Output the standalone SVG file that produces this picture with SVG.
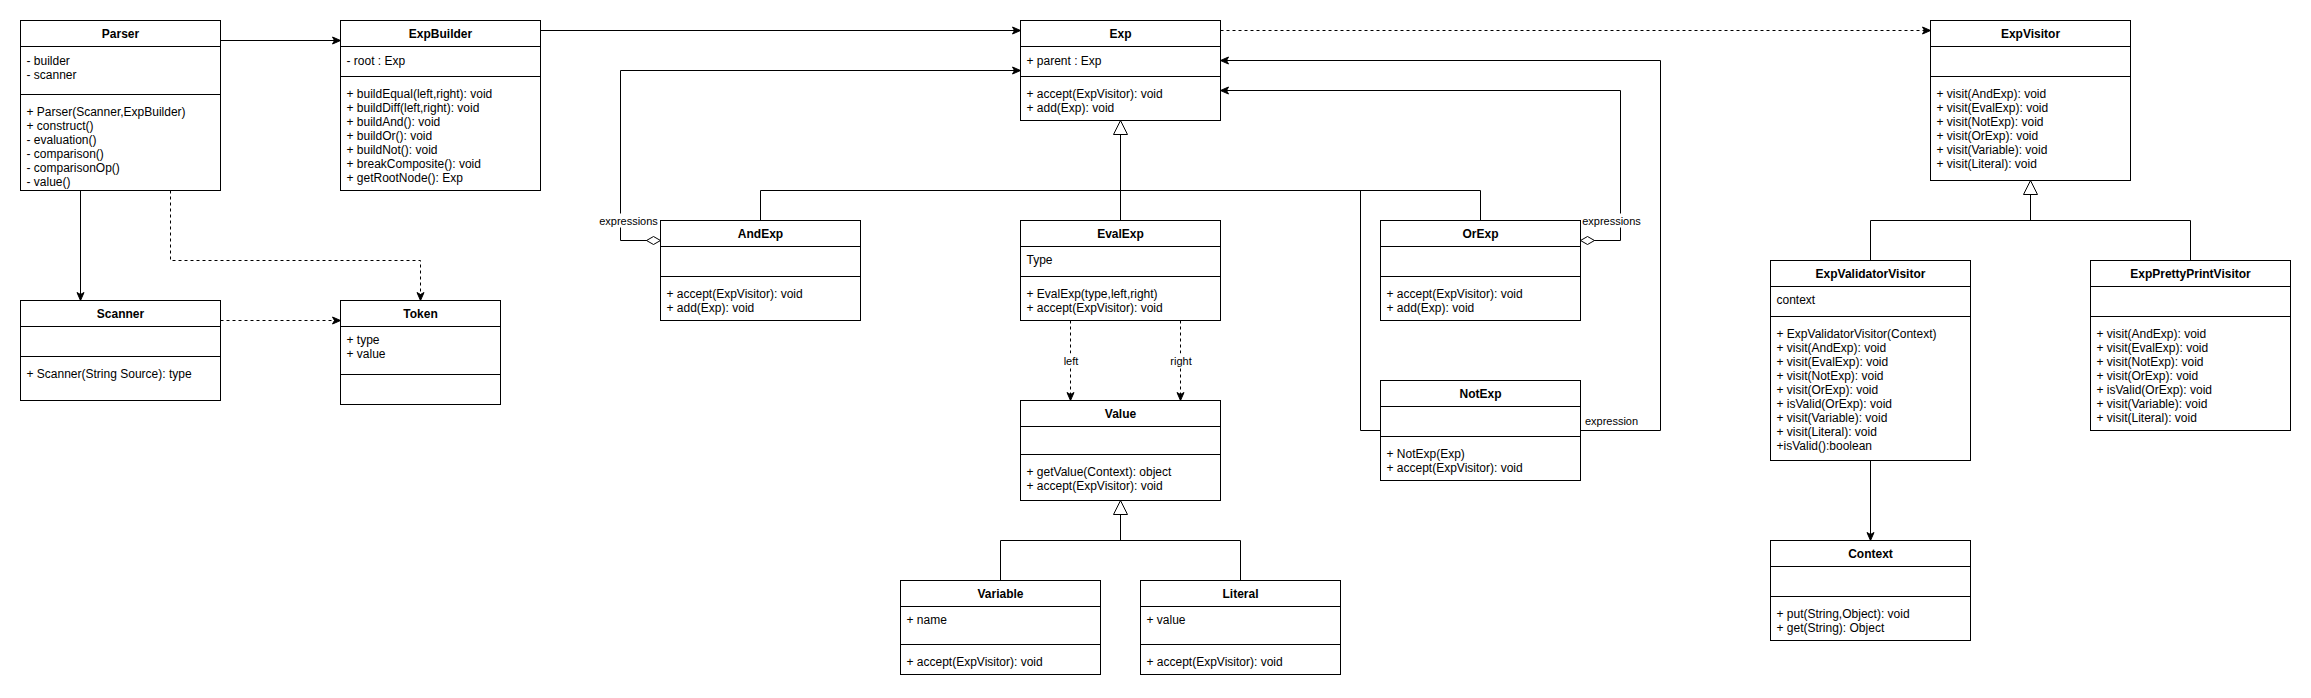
<svg xmlns="http://www.w3.org/2000/svg" width="2311" height="698" viewBox="0 0 2311 698">
<style>
.box{fill:#fff;stroke:#000;stroke-width:1}
.ln{stroke:#000;stroke-width:1;fill:none}
.t{font-family:"Liberation Sans",Arial,Helvetica,sans-serif;font-size:12px;fill:#000}
.ttl{font-weight:bold;text-anchor:middle}
.lbl{font-family:"Liberation Sans",Arial,Helvetica,sans-serif;font-size:11px;fill:#000;text-anchor:middle}
.bg{fill:#fff;stroke:none}
.edge{fill:none;stroke:#000;stroke-width:1}
.dash{stroke-dasharray:3 3}
</style>
<defs>
<marker id="arrow" markerUnits="userSpaceOnUse" viewBox="-10 -6 12 12" refX="0" refY="0" markerWidth="12" markerHeight="12" orient="auto" style="overflow:visible">
<path d="M0,0 L-8,-3.5 L-6,0 L-8,3.5 Z" fill="#000" stroke="#000" stroke-width="1"/>
</marker>
<marker id="tri" markerUnits="userSpaceOnUse" viewBox="-16 -9 18 18" refX="0" refY="0" markerWidth="18" markerHeight="18" orient="auto" style="overflow:visible">
<path d="M0,0 L-14,-7 L-14,7 Z" fill="#fff" stroke="#000" stroke-width="1"/>
</marker>
<marker id="diamond" markerUnits="userSpaceOnUse" viewBox="-2 -6 18 12" refX="0" refY="0" markerWidth="18" markerHeight="12" orient="auto" style="overflow:visible">
<path d="M0,0 L7,-4 L14,0 L7,4 Z" fill="#fff" stroke="#000" stroke-width="1"/>
</marker>
</defs>
<rect x="0" y="0" width="2311" height="698" fill="#fff"/>
<g transform="translate(0.5,0.5)">
<g id="connectors">
<path class="edge" d="M220,40 H340" marker-end="url(#arrow)"/>
<path class="edge" d="M80,190 V300" marker-end="url(#arrow)"/>
<path class="edge dash" d="M170,190 V260 H420 V300" marker-end="url(#arrow)"/>
<path class="edge dash" d="M220,320 H340" marker-end="url(#arrow)"/>
<path class="edge" d="M540,30 H1020" marker-end="url(#arrow)"/>
<path class="edge dash" d="M1220,30 H1930" marker-end="url(#arrow)"/>
<path class="edge" d="M660,240 H620 V70 H1020" marker-start="url(#diamond)" marker-end="url(#arrow)"/>
<path class="edge" d="M1580,240 H1620 V90 H1220" marker-start="url(#diamond)" marker-end="url(#arrow)"/>
<path class="edge" d="M1580,430 H1660 V60 H1220" marker-end="url(#arrow)"/>
<path class="edge" d="M760,220 V190 H1480 V220"/>
<path class="edge" d="M1360,190 V430 H1380"/>
<path class="edge" d="M1120,220 V120" marker-end="url(#tri)"/>
<path class="edge dash" d="M1070,320 V400" marker-end="url(#arrow)"/>
<path class="edge dash" d="M1180,320 V400" marker-end="url(#arrow)"/>
<path class="edge" d="M1000,580 V540 H1240 V580"/>
<path class="edge" d="M1120,540 V500" marker-end="url(#tri)"/>
<path class="edge" d="M1870,260 V220 H2190 V260"/>
<path class="edge" d="M2030,220 V180" marker-end="url(#tri)"/>
<path class="edge" d="M1870,460 V540" marker-end="url(#arrow)"/>
<rect class="bg" x="598" y="213" width="60" height="14"/>
<text class="lbl" x="628" y="224.5">expressions</text>
<rect class="bg" x="1581" y="213" width="60" height="14"/>
<text class="lbl" x="1611" y="224.5">expressions</text>
<text class="lbl" x="1611" y="424.5">expression</text>
<rect class="bg" x="1062" y="353" width="17" height="14"/>
<text class="lbl" x="1070.5" y="364">left</text>
<rect class="bg" x="1169" y="353" width="23" height="14"/>
<text class="lbl" x="1180.5" y="364">right</text>
</g>

<g id="Parser">
<rect class="box" x="20" y="20" width="200" height="170"/>
<path class="ln" d="M20,46 H220 M20,94 H220"/>
<text class="t ttl" x="120" y="37.5">Parser</text>
<text class="t" x="26" y="64">- builder</text>
<text class="t" x="26" y="78">- scanner</text>
<text class="t" x="26" y="115.7">+ Parser(Scanner,ExpBuilder)<tspan x="26" dy="14">+ construct()</tspan><tspan x="26" dy="14">- evaluation()</tspan><tspan x="26" dy="14">- comparison()</tspan><tspan x="26" dy="14">- comparisonOp()</tspan><tspan x="26" dy="14">- value()</tspan></text>
</g>

<g id="ExpBuilder">
<rect class="box" x="340" y="20" width="200" height="170"/>
<path class="ln" d="M340,46 H540 M340,76 H540"/>
<text class="t ttl" x="440" y="37.5">ExpBuilder</text>
<text class="t" x="346" y="64">- root : Exp</text>
<text class="t" x="346" y="97.7">+ buildEqual(left,right): void<tspan x="346" dy="14">+ buildDiff(left,right): void</tspan><tspan x="346" dy="14">+ buildAnd(): void</tspan><tspan x="346" dy="14">+ buildOr(): void</tspan><tspan x="346" dy="14">+ buildNot(): void</tspan><tspan x="346" dy="14">+ breakComposite(): void</tspan><tspan x="346" dy="14">+ getRootNode(): Exp</tspan></text>
</g>

<g id="Scanner">
<rect class="box" x="20" y="300" width="200" height="100"/>
<path class="ln" d="M20,326 H220 M20,356 H220"/>
<text class="t ttl" x="120" y="317.5">Scanner</text>
<text class="t" x="26" y="377.7">+ Scanner(String Source): type</text>
</g>

<g id="Token">
<rect class="box" x="340" y="300" width="160" height="104"/>
<path class="ln" d="M340,326 H500 M340,374 H500"/>
<text class="t ttl" x="420" y="317.5">Token</text>
<text class="t" x="346" y="343.3">+ type<tspan x="346" dy="14">+ value</tspan></text>
</g>

<g id="Exp">
<rect class="box" x="1020" y="20" width="200" height="100"/>
<path class="ln" d="M1020,46 H1220 M1020,76 H1220"/>
<text class="t ttl" x="1120" y="37.5">Exp</text>
<text class="t" x="1026" y="64">+ parent : Exp</text>
<text class="t" x="1026" y="97.7">+ accept(ExpVisitor): void<tspan x="1026" dy="14">+ add(Exp): void</tspan></text>
</g>

<g id="AndExp">
<rect class="box" x="660" y="220" width="200" height="100"/>
<path class="ln" d="M660,246 H860 M660,276 H860"/>
<text class="t ttl" x="760" y="237.5">AndExp</text>
<text class="t" x="666" y="297.7">+ accept(ExpVisitor): void<tspan x="666" dy="14">+ add(Exp): void</tspan></text>
</g>

<g id="EvalExp">
<rect class="box" x="1020" y="220" width="200" height="100"/>
<path class="ln" d="M1020,246 H1220 M1020,276 H1220"/>
<text class="t ttl" x="1120" y="237.5">EvalExp</text>
<text class="t" x="1026" y="263.3">Type</text>
<text class="t" x="1026" y="297.7">+ EvalExp(type,left,right)<tspan x="1026" dy="14">+ accept(ExpVisitor): void</tspan></text>
</g>

<g id="OrExp">
<rect class="box" x="1380" y="220" width="200" height="100"/>
<path class="ln" d="M1380,246 H1580 M1380,276 H1580"/>
<text class="t ttl" x="1480" y="237.5">OrExp</text>
<text class="t" x="1386" y="297.7">+ accept(ExpVisitor): void<tspan x="1386" dy="14">+ add(Exp): void</tspan></text>
</g>

<g id="NotExp">
<rect class="box" x="1380" y="380" width="200" height="100"/>
<path class="ln" d="M1380,406 H1580 M1380,436 H1580"/>
<text class="t ttl" x="1480" y="397.5">NotExp</text>
<text class="t" x="1386" y="457.7">+ NotExp(Exp)<tspan x="1386" dy="14">+ accept(ExpVisitor): void</tspan></text>
</g>

<g id="Value">
<rect class="box" x="1020" y="400" width="200" height="100"/>
<path class="ln" d="M1020,426 H1220 M1020,454 H1220"/>
<text class="t ttl" x="1120" y="417.5">Value</text>
<text class="t" x="1026" y="475.7">+ getValue(Context): object<tspan x="1026" dy="14">+ accept(ExpVisitor): void</tspan></text>
</g>

<g id="Variable">
<rect class="box" x="900" y="580" width="200" height="94"/>
<path class="ln" d="M900,606 H1100 M900,644 H1100"/>
<text class="t ttl" x="1000" y="597.5">Variable</text>
<text class="t" x="906" y="623.7">+ name</text>
<text class="t" x="906" y="665.7">+ accept(ExpVisitor): void</text>
</g>

<g id="Literal">
<rect class="box" x="1140" y="580" width="200" height="94"/>
<path class="ln" d="M1140,606 H1340 M1140,644 H1340"/>
<text class="t ttl" x="1240" y="597.5">Literal</text>
<text class="t" x="1146" y="623.7">+ value</text>
<text class="t" x="1146" y="665.7">+ accept(ExpVisitor): void</text>
</g>

<g id="ExpVisitor">
<rect class="box" x="1930" y="20" width="200" height="160"/>
<path class="ln" d="M1930,46 H2130 M1930,76 H2130"/>
<text class="t ttl" x="2030" y="37.5">ExpVisitor</text>
<text class="t" x="1936" y="97.7">+ visit(AndExp): void<tspan x="1936" dy="14">+ visit(EvalExp): void</tspan><tspan x="1936" dy="14">+ visit(NotExp): void</tspan><tspan x="1936" dy="14">+ visit(OrExp): void</tspan><tspan x="1936" dy="14">+ visit(Variable): void</tspan><tspan x="1936" dy="14">+ visit(Literal): void</tspan></text>
</g>

<g id="ExpValidatorVisitor">
<rect class="box" x="1770" y="260" width="200" height="200"/>
<path class="ln" d="M1770,286 H1970 M1770,316 H1970"/>
<text class="t ttl" x="1870" y="277.5">ExpValidatorVisitor</text>
<text class="t" x="1776" y="303.7">context</text>
<text class="t" x="1776" y="337.7">+ ExpValidatorVisitor(Context)<tspan x="1776" dy="14">+ visit(AndExp): void</tspan><tspan x="1776" dy="14">+ visit(EvalExp): void</tspan><tspan x="1776" dy="14">+ visit(NotExp): void</tspan><tspan x="1776" dy="14">+ visit(OrExp): void</tspan><tspan x="1776" dy="14">+ isValid(OrExp): void</tspan><tspan x="1776" dy="14">+ visit(Variable): void</tspan><tspan x="1776" dy="14">+ visit(Literal): void</tspan><tspan x="1776" dy="14">+isValid():boolean</tspan></text>
</g>

<g id="ExpPrettyPrintVisitor">
<rect class="box" x="2090" y="260" width="200" height="170"/>
<path class="ln" d="M2090,286 H2290 M2090,316 H2290"/>
<text class="t ttl" x="2190" y="277.5">ExpPrettyPrintVisitor</text>
<text class="t" x="2096" y="337.7">+ visit(AndExp): void<tspan x="2096" dy="14">+ visit(EvalExp): void</tspan><tspan x="2096" dy="14">+ visit(NotExp): void</tspan><tspan x="2096" dy="14">+ visit(OrExp): void</tspan><tspan x="2096" dy="14">+ isValid(OrExp): void</tspan><tspan x="2096" dy="14">+ visit(Variable): void</tspan><tspan x="2096" dy="14">+ visit(Literal): void</tspan></text>
</g>

<g id="Context">
<rect class="box" x="1770" y="540" width="200" height="100"/>
<path class="ln" d="M1770,566 H1970 M1770,596 H1970"/>
<text class="t ttl" x="1870" y="557.5">Context</text>
<text class="t" x="1776" y="617.7">+ put(String,Object): void<tspan x="1776" dy="14">+ get(String): Object</tspan></text>
</g>
</g>
</svg>
